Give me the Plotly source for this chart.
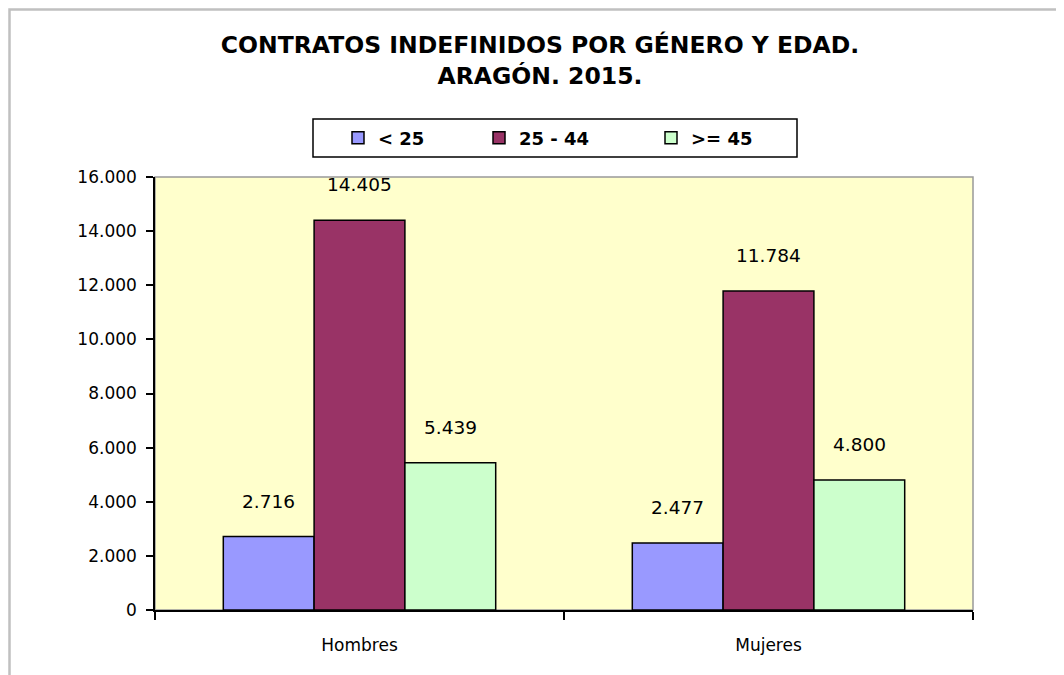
import plotly.graph_objects as go

categories = ["Hombres", "Mujeres"]
series_names = ["< 25", "25 - 44", ">= 45"]
menores_25 = [2716, 2477]
entre_25_44 = [14405, 11784]
mayores_45 = [5439, 4800]
series_values = [menores_25, entre_25_44, mayores_45]
colors = ["#9999FF", "#993366", "#CCFFCC"]
y_tickvals = [0, 2000, 4000, 6000, 8000, 10000, 12000, 14000, 16000]
y_ticktext = ["0", "2.000", "4.000", "6.000", "8.000", "10.000", "12.000", "14.000", "16.000"]


def fmt(v):
    return f"{v:,}".replace(",", ".")


OFF = 8  # page body margin
W, H = 1064 - OFF, 675 - OFF
# plot area in reference (window) pixel coords
RL, RR, RT, RB = 155, 973, 177, 610
L, R, T, B = RL - OFF, RR - OFF, RT - OFF, RB - OFF
pw, ph = R - L, B - T


def px(x):
    return (x - OFF - L) / pw


def py(y):
    return (B - (y - OFF)) / ph


fig = go.Figure()
legend_ids = ["legend", "legend2", "legend3"]
for name, vals, col, lg in zip(series_names, series_values, colors, legend_ids):
    fig.add_trace(go.Bar(
        name=name, x=categories, y=vals, legend=lg,
        marker=dict(color=col, line=dict(color="black", width=1.5)),
    ))

bar_w = 91
offsets = [-bar_w, 0, bar_w]
for vals, off in zip(series_values, offsets):
    for cat, v in zip(categories, vals):
        fig.add_annotation(
            x=cat, y=v, xref="x", yref="y", text=fmt(v), showarrow=False,
            xshift=off, yshift=23, yanchor="bottom",
            font=dict(family="DejaVu Sans", size=18.5, color="black"),
        )

# outer chart border (only left/top visible)
fig.add_shape(type="rect", xref="paper", yref="paper",
              x0=px(9.5), x1=px(1200), y0=py(9.5), y1=py(800),
              line=dict(color="#C0C0C0", width=2.5), layer="below")
# plot area border
fig.add_shape(type="rect", xref="paper", yref="paper",
              x0=0, x1=1, y0=0, y1=1,
              line=dict(color="#999999", width=1.5), layer="below")
# legend box
fig.add_shape(type="rect", xref="paper", yref="paper",
              x0=px(313), x1=px(797), y0=py(119), y1=py(157),
              line=dict(color="black", width=1.5), fillcolor="white")

leg_font = dict(family="DejaVu Sans", size=18, color="black", weight="bold")
leg_x = [338, 479, 651]
leg_common = dict(orientation="h", xanchor="left", yanchor="middle",
                  bgcolor="rgba(0,0,0,0)", borderwidth=0, font=leg_font,
                  itemwidth=30)

fig.update_layout(
    width=W, height=H,
    margin=dict(l=L, r=W - R, t=T, b=H - B, pad=0),
    paper_bgcolor="white", plot_bgcolor="#FFFFCC",
    barmode="group", bargap=0.334, bargroupgap=0,
    title=dict(
        text="CONTRATOS INDEFINIDOS POR GÉNERO Y EDAD.<br>ARAGÓN. 2015.",
        x=(540 - OFF) / W, xanchor="center", y=1 - (53 - OFF) / H, yanchor="middle",
        font=dict(family="DejaVu Sans", size=23.5, color="black", weight="bold"),
    ),
    showlegend=True,
    legend=dict(x=px(leg_x[0]), y=py(138), **leg_common),
    legend2=dict(x=px(leg_x[1]), y=py(138), **leg_common),
    legend3=dict(x=px(leg_x[2]), y=py(138), **leg_common),
    font=dict(family="DejaVu Sans", color="black"),
)

fig.update_yaxes(
    range=[0, 16000], tickvals=y_tickvals, ticktext=y_ticktext,
    showgrid=False, zeroline=False,
    showline=True, linecolor="black", linewidth=1.5,
    ticks="outside", ticklen=7, tickcolor="black", tickwidth=1.5,
    ticklabelstandoff=6,
    tickfont=dict(family="DejaVu Sans", size=17, color="black"),
)
fig.update_xaxes(
    showgrid=False, showline=True, linecolor="black", linewidth=1.5,
    ticks="outside", tickson="boundaries", ticklen=8, tickcolor="black", tickwidth=1.5,
    ticklabelstandoff=19,
    tickfont=dict(family="DejaVu Sans", size=17, color="black"),
)

fig.write_html("out.html")
